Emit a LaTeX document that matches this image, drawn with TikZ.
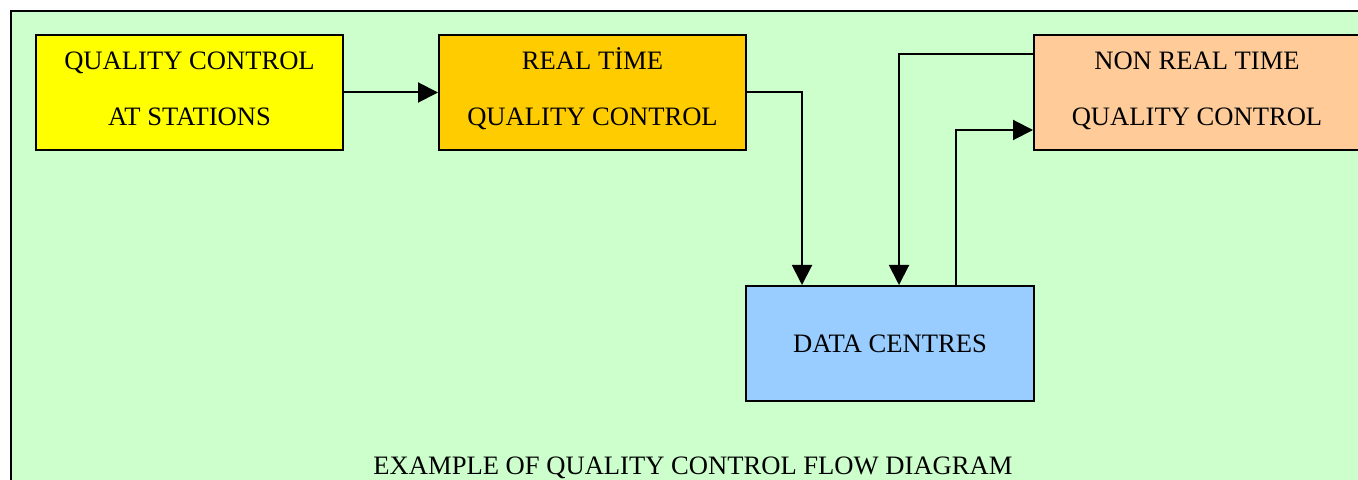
\documentclass[tikz,border=0pt]{standalone}
\usepackage{fontspec}
\setmainfont{Liberation Serif}
\usetikzlibrary{arrows.meta}
\definecolor{rahmen}{HTML}{CCFFCC}
\definecolor{gelb}{HTML}{FFFF00}
\definecolor{orange}{HTML}{FFCC00}
\definecolor{pfirsich}{HTML}{FFCC99}
\definecolor{blau}{HTML}{99CCFF}
\tikzset{
  kasten/.style={draw=black,line width=1pt,minimum width=153.5pt,minimum height=57.5pt,
    inner sep=0pt,align=center,font=\fontsize{13.3}{28}\selectfont},
  pfeil/.style={-{Triangle[length=10pt,width=10pt]},black,line width=1pt},
}
\begin{document}
\begin{tikzpicture}[x=0.5pt,y=-0.5pt]
  \clip (0,0) rectangle (1358,480);
  \draw[fill=rahmen,line width=1.1pt] (11,11) rectangle (1380,500);
  \node[kasten,fill=gelb] (qcs) at (189.5,92.5) {QUALITY CONTROL\\AT STATIONS\rule[-4pt]{0pt}{1pt}};
  \node[kasten,fill=orange] (rtqc) at (592.5,92.5) {REAL T\smash{İ}ME\\QUALITY CONTROL\rule[-4pt]{0pt}{1pt}};
  \node[kasten,fill=pfirsich,minimum width=163pt] (nrtqc) at (1197,92.5) {NON REAL TIME\\QUALITY CONTROL\rule[-4pt]{0pt}{1pt}};
  \node[kasten,fill=blau,minimum width=144pt] (dc) at (890,343.5) {DATA CENTRES};
  \node[font=\fontsize{13.3}{16}\selectfont] (titel) at (693,468) {EXAMPLE OF QUALITY CONTROL FLOW DIAGRAM};
  \draw[pfeil] (qcs) -- (rtqc);
  \draw[pfeil] (rtqc.east) -| ([xshift=28.5pt]dc.north west);
  \draw[pfeil] ([yshift=19.25pt]nrtqc.west) -| ([xshift=77pt]dc.north west);
  \draw[pfeil] ([xshift=105.5pt]dc.north west) |- ([yshift=-18.75pt]nrtqc.west);
\end{tikzpicture}
\end{document}
